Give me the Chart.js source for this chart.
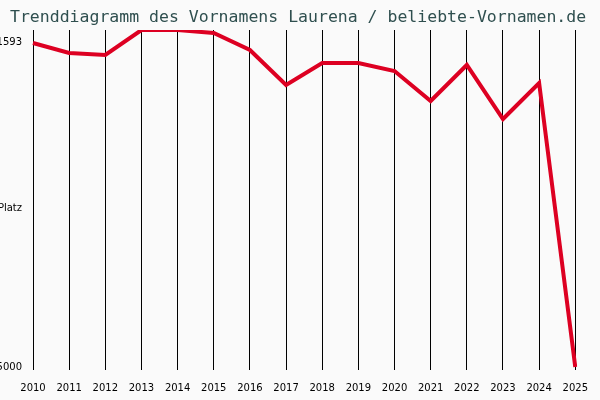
<!DOCTYPE html>
<html lang="de">
<head>
  <meta charset="UTF-8" />
  <script src="https://cdn.jsdelivr.net/npm/chart.js"></script>
  <style>
    body { margin: 0; background: #fafafa; }
  </style>
</head>
<body>
  <canvas id="trend" width="600" height="400"></canvas>
  <script>
    const jahre = ["2010", "2011", "2012", "2013", "2014", "2015", "2016", "2017",
                   "2018", "2019", "2020", "2021", "2022", "2023", "2024", "2025"];
    const platz = [1665, 2385, 2529, 729, 729, 945, 2169, 4690,
                   3105, 3105, 3682, 5842, 3249, 7139, 4546, 25000];
    const yTicks = [1593, 13550, 25000];
    const yLabels = ["1593", "Platz", "25000"];
    const titel = "Trenddiagramm des Vornamens Laurena / beliebte-Vornamen.de";

    const titelPlugin = {
      id: "titel",
      afterDraw(chart) {
        const ctx = chart.ctx;
        ctx.save();
        ctx.fillStyle = "#2f4f4f";
        ctx.font = "16.5px 'DejaVu Sans Mono'";
        ctx.textBaseline = "middle";
        ctx.fillText(titel, 10, 18);
        ctx.restore();
      }
    };

    new Chart(document.getElementById("trend"), {
      type: "line",
      data: {
        labels: jahre,
        datasets: [{
          data: platz,
          borderColor: "#dd0022",
          borderWidth: 4,
          pointRadius: 0,
          tension: 0,
        }],
      },
      options: {
        responsive: false,
        animation: false,
        layout: { padding: { top: 30, right: 13, left: 0, bottom: 0 } },
        plugins: { legend: { display: false }, tooltip: { enabled: false } },
        scales: {
          x: {
            offset: false,
            grid: { color: "#000", lineWidth: 1, drawTicks: false },
            border: { display: false },
            ticks: { color: "#000", font: { family: "DejaVu Sans", size: 10 }, padding: 12, maxRotation: 0, autoSkip: false },
            afterFit(s) { s.height = 30; },
          },
          y: {
            reverse: true,
            min: 729,
            max: 25216,
            grid: { display: false },
            border: { display: false },
            afterBuildTicks(s) { s.ticks = yTicks.map(v => ({ value: v })); },
            ticks: {
              color: "#000",
              font: { family: "DejaVu Sans", size: 10 },
              padding: 3,
              callback: (v, i) => yLabels[i],
            },
            afterFit(s) { s.width = 33; },
          },
        },
      },
      plugins: [titelPlugin],
    });
  </script>
</body>
</html>
